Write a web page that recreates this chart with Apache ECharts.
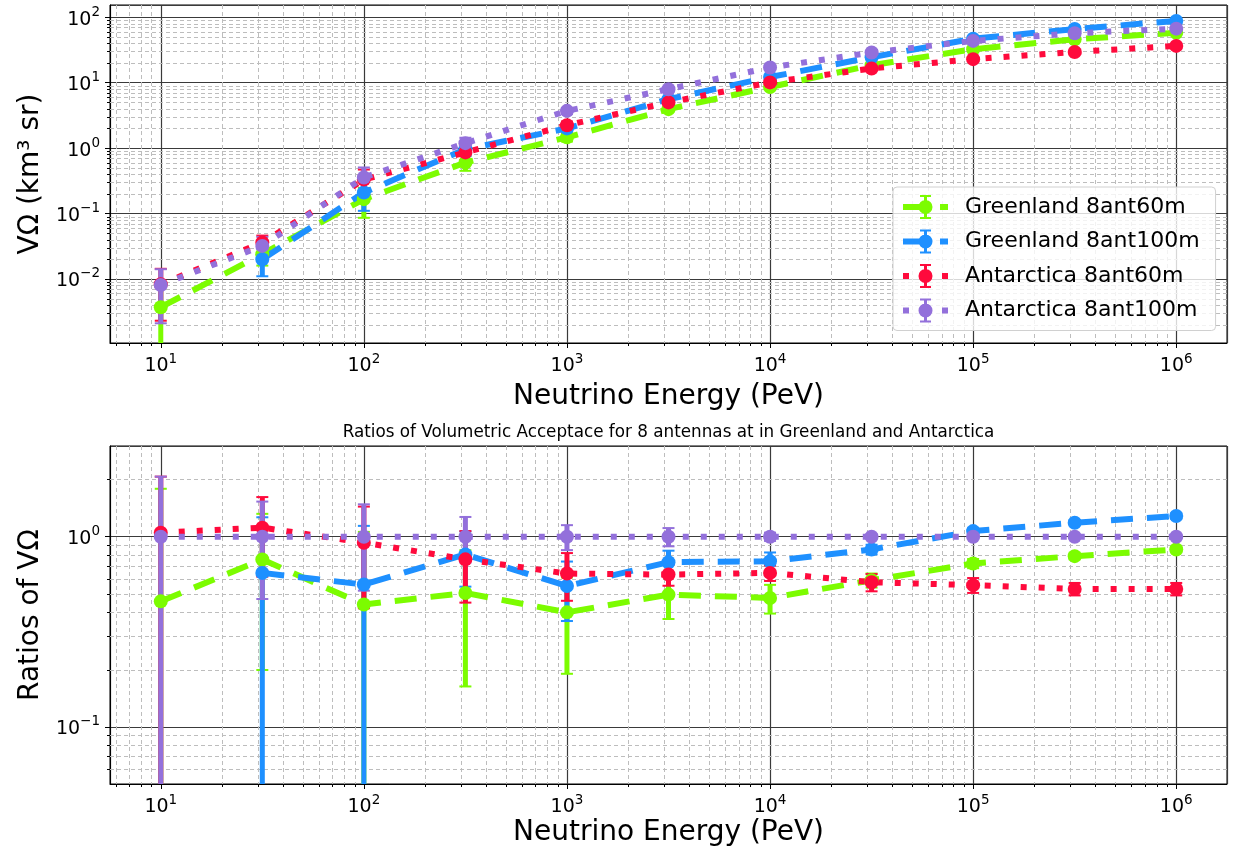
<!DOCTYPE html>
<html>
<head>
<meta charset="utf-8">
<script src="https://cdn.jsdelivr.net/npm/echarts@6/dist/echarts.min.js"></script>
<style>
  html, body { margin: 0; padding: 0; background: #fff; }
  #chart { width: 1233px; height: 857px; }
</style>
</head>
<body>
<div id="chart"></div>
<script>
// Neutrino energies (PeV), half-decade steps
const energies = [10, 31.62, 100, 316.2, 1000, 3162, 10000, 31620, 100000, 316200, 1000000];

const seriesNames = ['Greenland 8ant60m', 'Greenland 8ant100m', 'Antarctica 8ant60m', 'Antarctica 8ant100m'];

// Volumetric acceptance V·Ω (km^3 sr) and its uncertainty
const accGreen60 = [0.0037, 0.024, 0.166, 0.60, 1.46, 3.94, 8.6, 18.5, 32.5, 46, 58];
const errGreen60 = [0.004, 0.008, 0.08, 0.15, 0.2, 0.3, 0.4, 0.6, 0.8, 1.0, 1.2];
const accGreen100 = [null, 0.020, 0.21, 0.96, 2.0, 5.6, 12.2, 24.5, 47, 66, 88];
const errGreen100 = [null, 0.009, 0.1, 0.2, 0.25, 0.4, 0.5, 0.7, 1.0, 1.2, 1.4];
const accAnt60 = [0.0083, 0.036, 0.33, 0.86, 2.24, 5.0, 10.1, 16.5, 22.9, 29.5, 36.5];
const errAnt60 = [0.006, 0.01, 0.14, 0.2, 0.3, 0.4, 0.5, 0.7, 0.9, 1.0, 1.2];
const accAnt100 = [0.0081, 0.032, 0.356, 1.19, 3.71, 7.95, 17.1, 28.9, 43.5, 57, 67];
const errAnt100 = [0.006, 0.012, 0.15, 0.25, 0.4, 0.6, 0.8, 1.0, 1.2, 1.4, 1.6];

// Ratios of V·Ω relative to Antarctica 8ant100m, with uncertainties
const ratioGreen60 = [0.457, 0.759, 0.44, 0.506, 0.40, 0.496, 0.476, 0.59, 0.723, 0.79, 0.857];
const ratioErrGreen60 = [1.33, 0.56, 0.62, 0.343, 0.21, 0.127, 0.082, 0.05, 0.04, 0.03, 0.03];
const ratioGreen100 = [null, 0.645, 0.56, 0.806, 0.55, 0.734, 0.743, 0.857, 1.07, 1.185, 1.285];
const ratioErrGreen100 = [null, 0.62, 0.58, 0.26, 0.19, 0.11, 0.083, 0.05, 0.04, 0.04, 0.04];
const ratioAnt60 = [1.05, 1.116, 0.93, 0.76, 0.64, 0.632, 0.645, 0.576, 0.556, 0.531, 0.531];
const ratioErrAnt60 = [1.02, 0.5, 0.51, 0.31, 0.18, 0.08, 0.06, 0.06, 0.05, 0.04, 0.04];
const ratioAnt100 = [1, 1, 1, 1, 1, 1, 1, 1, 1, 1, 1];
const ratioErrAnt100 = [1.07, 0.53, 0.48, 0.27, 0.15, 0.11, 0.05, 0.03, 0.02, 0.02, 0.02];

const topTitle = 'Ratios of Volumetric Acceptace for 8 antennas at in Greenland and Antarctica';
const xName = 'Neutrino Energy (PeV)';
const yNameTop = 'VΩ (km³ sr)';
const yNameBottom = 'Ratios of VΩ';

const colors = ['#7CFC00', '#1E90FF', '#FF0A3C', '#9370DB'];
const dashed = [22, 14];
const dotted = [6, 12];
const lineTypes = [dashed, dashed, dotted, dotted];

const FONT = 'DejaVu Sans';

const xRange = [Math.pow(10, 0.75), Math.pow(10, 6.25)];
const yRangeTop = [0.00105, 154];
const yRangeBottom = [0.05, 3];

// Minor grid positions (2..9 times each decade) inside a range
function minorValues(lo, hi) {
  const out = [];
  for (let d = Math.floor(Math.log10(lo)); d <= Math.ceil(Math.log10(hi)); d++) {
    for (let k = 2; k <= 9; k++) {
      const v = k * Math.pow(10, d);
      if (v > lo * 1.0001 && v < hi * 0.9999) out.push(v);
    }
  }
  return out;
}

const supDigits = n => (n < 0 ? '\u2212' : '') + Math.abs(n);
function powerLabel(v) {
  const n = Math.round(Math.log10(v));
  return '{b|10}{e|' + supDigits(n) + '}';
}
const labelRich = {
  b: { fontSize: 19, fontFamily: FONT, color: '#000', lineHeight: 24, verticalAlign: 'bottom' },
  e: { fontSize: 13.5, fontFamily: FONT, color: '#000', lineHeight: 14, verticalAlign: 'top' }
};

function logAxis(range, gridIndex, isX, name, nameGap) {
  return {
    type: 'log',
    logBase: 10,
    gridIndex: gridIndex,
    min: range[0],
    max: range[1],
    name: name,
    nameLocation: 'middle',
    nameGap: nameGap,
    nameTextStyle: { fontFamily: FONT, fontSize: 28, color: '#000' },
    axisLine: { show: true, onZero: false, lineStyle: { color: '#000', width: 1 } },
    axisTick: { show: true, inside: false, length: 5, lineStyle: { color: '#000', width: 1 } },
    axisLabel: {
      show: true,
      margin: isX ? 9 : 10,
      showMinLabel: false,
      showMaxLabel: false,
      formatter: powerLabel,
      rich: labelRich
    },
    splitLine: { show: true, lineStyle: { color: '#3a3a3a', width: 1.2, type: 'solid' } },
    minorTick: { show: false },
    minorSplitLine: { show: false }
  };
}

// Dashed minor grid lines plus short outward minor ticks
function minorGridSeries(values, gridIndex, vertical) {
  return {
    type: 'custom',
    xAxisIndex: gridIndex,
    yAxisIndex: gridIndex,
    silent: true,
    clip: false,
    z: 1,
    data: values.map(v => vertical ? [v, 1] : [10, v]),
    encode: { x: 0, y: 1 },
    renderItem: function (params, api) {
      const cs = params.coordSys;
      const p = api.coord([api.value(0), api.value(1)]);
      const dash = { stroke: '#bdbdbd', lineWidth: 1, lineDash: [4, 3] };
      const tick = { stroke: '#000', lineWidth: 1 };
      if (vertical) {
        const x = Math.round(p[0]) + 0.5;
        return { type: 'group', children: [
          { type: 'line', shape: { x1: x, y1: cs.y, x2: x, y2: cs.y + cs.height }, style: dash },
          { type: 'line', shape: { x1: x, y1: cs.y + cs.height, x2: x, y2: cs.y + cs.height + 3 }, style: tick }
        ] };
      }
      const y = Math.round(p[1]) + 0.5;
      return { type: 'group', children: [
        { type: 'line', shape: { x1: cs.x, y1: y, x2: cs.x + cs.width, y2: y }, style: dash },
        { type: 'line', shape: { x1: cs.x - 3, y1: y, x2: cs.x, y2: y }, style: tick }
      ] };
    }
  };
}

// Vertical error bars with caps, clipped to the plotting area
function errorSeries(name, values, errs, color, gridIndex) {
  const data = [];
  energies.forEach((e, i) => {
    if (values[i] != null) data.push([e, values[i], errs[i]]);
  });
  return {
    type: 'custom',
    name: name,
    xAxisIndex: gridIndex,
    yAxisIndex: gridIndex,
    silent: true,
    clip: false,
    z: 2,
    data: data,
    encode: { x: 0, y: 1 },
    renderItem: function (params, api) {
      const cs = params.coordSys;
      const top = cs.y, bottom = cs.y + cs.height;
      const x = api.value(0), v = api.value(1), err = api.value(2);
      const cx = api.coord([x, v])[0];
      const hiPx = api.coord([x, v + err])[1];
      const lo = v - err;
      const loPx = lo > 0 ? api.coord([x, lo])[1] : Infinity;
      const clamp = p => Math.min(Math.max(p, top), bottom);
      const children = [{
        type: 'line',
        shape: { x1: cx, y1: clamp(hiPx), x2: cx, y2: clamp(loPx) },
        style: { stroke: color, lineWidth: 5 }
      }];
      const capW = 6;
      if (hiPx >= top && hiPx <= bottom) {
        children.push({ type: 'line', shape: { x1: cx - capW, y1: hiPx, x2: cx + capW, y2: hiPx }, style: { stroke: color, lineWidth: 2 } });
      }
      if (loPx >= top && loPx <= bottom) {
        children.push({ type: 'line', shape: { x1: cx - capW, y1: loPx, x2: cx + capW, y2: loPx }, style: { stroke: color, lineWidth: 2 } });
      }
      return { type: 'group', children: children };
    }
  };
}

function lineSeries(name, values, color, lineType, gridIndex) {
  return {
    type: 'line',
    name: name,
    xAxisIndex: gridIndex,
    yAxisIndex: gridIndex,
    z: 3,
    data: energies.map((e, i) => [e, values[i]]),
    symbol: 'circle',
    symbolSize: 14,
    showSymbol: true,
    connectNulls: false,
    itemStyle: { color: color },
    lineStyle: { color: color, width: 6, type: lineType, cap: 'butt' },
    emphasis: { disabled: true },
    silent: true
  };
}

// Legend handles: line pieces, marker and capped error bar
const iconDashed = 'path://M0 9H17V15H0Z M37 9H45V15H37Z M21 2H24V22H21Z M17 0H28V2H17Z M17 22H28V24H17Z M15.5 12A7 7 0 1 1 29.5 12A7 7 0 1 1 15.5 12Z';
const iconDotted = 'path://M0 9H6V15H0Z M39 9H45V15H39Z M21 2H24V22H21Z M17 0H28V2H17Z M17 22H28V24H17Z M15.5 12A7 7 0 1 1 29.5 12A7 7 0 1 1 15.5 12Z';
const legendIcons = [iconDashed, iconDashed, iconDotted, iconDotted];

const accValues = [accGreen60, accGreen100, accAnt60, accAnt100];
const accErrs = [errGreen60, errGreen100, errAnt60, errAnt100];
const ratioValues = [ratioGreen60, ratioGreen100, ratioAnt60, ratioAnt100];
const ratioErrs = [ratioErrGreen60, ratioErrGreen100, ratioErrAnt60, ratioErrAnt100];

const series = [
  minorGridSeries(minorValues(xRange[0], xRange[1]), 0, true),
  minorGridSeries(minorValues(yRangeTop[0], yRangeTop[1]), 0, false),
  minorGridSeries(minorValues(xRange[0], xRange[1]), 1, true),
  minorGridSeries(minorValues(yRangeBottom[0], yRangeBottom[1]), 1, false)
];
for (let i = 0; i < 4; i++) series.push(errorSeries(seriesNames[i] + ' error', accValues[i], accErrs[i], colors[i], 0));
for (let i = 0; i < 4; i++) series.push(lineSeries(seriesNames[i], accValues[i], colors[i], lineTypes[i], 0));
for (let i = 0; i < 4; i++) series.push(errorSeries(seriesNames[i] + ' ratio error', ratioValues[i], ratioErrs[i], colors[i], 1));
for (let i = 0; i < 4; i++) series.push(lineSeries(seriesNames[i] + ' ratio', ratioValues[i], colors[i], lineTypes[i], 1));

const chart = echarts.init(document.getElementById('chart'), null, { renderer: 'canvas' });
chart.setOption({
  animation: false,
  backgroundColor: '#fff',
  grid: [
    { left: 110, top: 5, width: 1117, height: 338, show: true, borderColor: '#000', borderWidth: 1, backgroundColor: 'transparent', containLabel: false },
    { left: 110, top: 446, width: 1117, height: 338, show: true, borderColor: '#000', borderWidth: 1, backgroundColor: 'transparent', containLabel: false }
  ],
  xAxis: [
    logAxis(xRange, 0, true, xName, 40),
    logAxis(xRange, 1, true, xName, 35)
  ],
  yAxis: [
    logAxis(yRangeTop, 0, false, yNameTop, 62),
    logAxis(yRangeBottom, 1, false, yNameBottom, 62)
  ],
  legend: {
    show: true,
    orient: 'vertical',
    left: 893,
    top: 187,
    padding: [8, 16, 8, 10],
    itemWidth: 45,
    itemHeight: 24,
    itemGap: 10.5,
    backgroundColor: 'rgba(255,255,255,0.8)',
    borderColor: '#d0d0d0',
    borderWidth: 1,
    borderRadius: 4,
    selectedMode: false,
    textStyle: { fontFamily: FONT, fontSize: 22, color: '#000', padding: [0, 0, 0, 12] },
    data: seriesNames.map((n, i) => ({ name: n, icon: legendIcons[i], itemStyle: { color: colors[i] } }))
  },
  graphic: [{
    type: 'text',
    x: 668.5,
    y: 433,
    silent: true,
    style: { text: topTitle, fontFamily: FONT, fontSize: 16.8, fill: '#000', align: 'center', verticalAlign: 'middle' }
  }],
  series: series
});
</script>
</body>
</html>
